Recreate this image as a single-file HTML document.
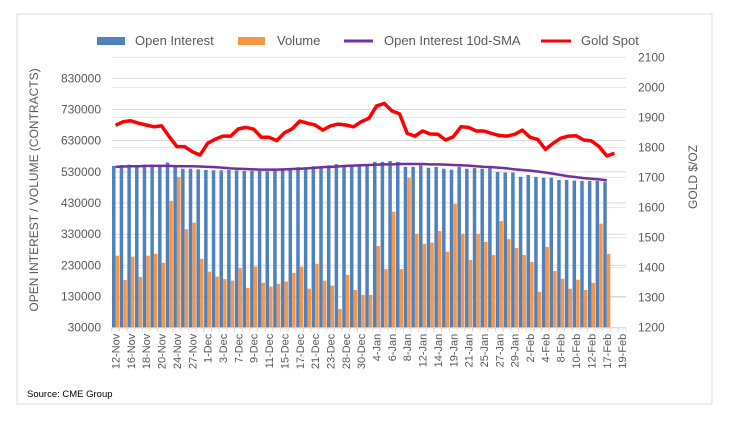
<!DOCTYPE html>
<html><head><meta charset="utf-8"><style>
html,body{margin:0;padding:0;background:#fff;}
svg{display:block;font-family:"Liberation Sans",sans-serif;}
</style></head><body>
<svg id="chart" width="738" height="421" viewBox="0 0 738 421">
<rect x="17" y="14" width="695" height="390" fill="#fff" stroke="#d9d9d9"/>
<g id="grid"></g>
<g id="bars"></g>
<g id="lines"></g>
<g id="axes"></g>
<text x="38" y="190" transform="rotate(-90 38 190)" text-anchor="middle" font-size="12" fill="#595959">OPEN INTEREST / VOLUME (CONTRACTS)</text>
<text x="697" y="177" transform="rotate(-90 697 177)" text-anchor="middle" font-size="12" fill="#595959">GOLD $/OZ</text>
<text x="27" y="397" font-size="9.5" fill="#000">Source: CME Group</text>
<g>
<g><rect x="97" y="37" width="28" height="8" fill="#4f81bd"/><text x="135" y="45" font-size="13" fill="#595959">Open Interest</text></g>
<g><rect x="238" y="37" width="27" height="8" fill="#f79646"/><text x="277" y="45" font-size="13" fill="#595959">Volume</text></g>
<g><line x1="344" y1="41" x2="373" y2="41" stroke="#7030a0" stroke-width="3"/><text x="384" y="45" font-size="13" fill="#595959">Open Interest 10d-SMA</text></g>
<g><line x1="541" y1="41" x2="571" y2="41" stroke="#ff0000" stroke-width="3"/><text x="581" y="45" font-size="13" fill="#595959">Gold Spot</text></g>
</g>
</svg>
<script>
const categories=["12-Nov","13-Nov","16-Nov","17-Nov","18-Nov","19-Nov","20-Nov","23-Nov","24-Nov","25-Nov","27-Nov","30-Nov","1-Dec","2-Dec","3-Dec","4-Dec","7-Dec","8-Dec","9-Dec","10-Dec","11-Dec","14-Dec","15-Dec","16-Dec","17-Dec","18-Dec","21-Dec","22-Dec","23-Dec","24-Dec","28-Dec","29-Dec","30-Dec","31-Dec","4-Jan","5-Jan","6-Jan","7-Jan","8-Jan","11-Jan","12-Jan","13-Jan","14-Jan","15-Jan","19-Jan","20-Jan","21-Jan","22-Jan","25-Jan","26-Jan","27-Jan","28-Jan","29-Jan","1-Feb","2-Feb","3-Feb","4-Feb","5-Feb","8-Feb","9-Feb","10-Feb","11-Feb","12-Feb","16-Feb","17-Feb","18-Feb","19-Feb"];
const openInterest=[549,552,553,552,553,553,552,560,548,540,540,538,536,535,535,536,535,533,533,533,532,535,538,540,545,545,548,548,551,555,551,551,551,551,562,562,565,562,546,546,551,543,546,540,537,546,540,542,540,542,530,528,528,514,520,514,511,511,504,504,502,501,501,501,498];
const volume=[261,183,258,193,261,267,238,437,514,346,367,251,210,194,186,181,221,158,226,174,162,171,178,206,226,155,235,181,165,90,199,151,135,135,292,218,402,218,511,331,299,303,340,274,427,331,247,331,305,263,372,314,286,263,241,145,289,212,187,155,184,151,174,364,267];
const oiSma=[546,547,548,548,549,549,549,549,548,548,548,547,546,545,543,541,540,539,538,537,537,537,538,539,540,541,543,545,546,547,549,550,551,552,553,554,554,555,555,555,555,554,554,553,552,551,550,548,546,545,543,541,538,536,534,531,528,524,520,516,513,510,508,506,503];
const goldSpot=[1874,1886,1889,1881,1875,1869,1872,1836,1803,1803,1786,1775,1814,1828,1838,1838,1862,1867,1861,1834,1834,1823,1849,1862,1888,1881,1875,1858,1872,1878,1875,1869,1886,1897,1938,1947,1922,1912,1847,1838,1855,1845,1844,1825,1836,1869,1867,1855,1855,1847,1840,1838,1844,1858,1834,1827,1794,1814,1831,1838,1839,1825,1822,1803,1772,1781];
const leftTicks=[30000,130000,230000,330000,430000,530000,630000,730000,830000];
const rightTicks=[1200,1300,1400,1500,1600,1700,1800,1900,2000,2100];

const NS="http://www.w3.org/2000/svg";
const X0=111.7,X1=626,Y0=327.7;
const cw=(X1-X0)/categories.length;
const yL=v=>Y0-(v-30000)/100000*31.17;
const yR=v=>Y0-(v-1200)*0.3003;
const xC=i=>X0+(i+0.5)*cw;
function mk(tag,attrs,parent){const e=document.createElementNS(NS,tag);for(const k in attrs)e.setAttribute(k,attrs[k]);parent.appendChild(e);return e;}
const grid=document.getElementById('grid'),bars=document.getElementById('bars'),lines=document.getElementById('lines'),axes=document.getElementById('axes');
rightTicks.forEach(t=>{const l=mk('line',{x1:X0,x2:X1,y1:yR(t),y2:yR(t),stroke:'#e6e6e6','stroke-width':1},grid);


const tx=mk('text',{x:638,y:yR(t)+4,'font-size':12,fill:'#595959'},axes);tx.textContent=t;

});
leftTicks.forEach(t=>{const l=mk('line',{x1:X0,x2:X1,y1:yL(t),y2:yL(t),stroke:'#d9d9d9','stroke-width':1},grid);


const tx=mk('text',{x:101,y:yL(t)+4,'font-size':12,fill:'#595959','text-anchor':'end'},axes);tx.textContent=t;

});
openInterest.forEach((v,i)=>{const y=yL(v*1000);const r=mk('rect',{x:X0+i*cw+0.3,y:y,width:3.5,height:Y0-y,fill:'#4f81bd'},bars);

});
volume.forEach((v,i)=>{const y=yL(v*1000);const r=mk('rect',{x:X0+i*cw+3.9,y:y,width:3.5,height:Y0-y,fill:'#f79646'},bars);

});
const sma=mk('polyline',{points:oiSma.map((v,i)=>xC(i)+','+yL(v*1000)).join(' '),fill:'none',stroke:'#7030a0','stroke-width':2.5,'stroke-linejoin':'round'},lines);


const gold=mk('polyline',{points:goldSpot.map((v,i)=>xC(i)+','+yR(v)).join(' '),fill:'none',stroke:'#ff0000','stroke-width':3.5,'stroke-linejoin':'round'},lines);


const ax=mk('line',{x1:X0,x2:X1,y1:Y0,y2:Y0,stroke:'#d9d9d9'},axes);


for(let i=0;i<=categories.length;i++){const t=mk('line',{x1:X0+i*cw,x2:X0+i*cw,y1:Y0,y2:Y0+4,stroke:'#d9d9d9'},axes);

}
categories.forEach((c,i)=>{if(i%2)return;const x=xC(i)+4,y=Y0+6;
const tx=mk('text',{x:x,y:y,'font-size':11,fill:'#595959','text-anchor':'end',transform:`rotate(-90 ${x} ${y})`},axes);tx.textContent=c;

});
</script>
</body></html>
